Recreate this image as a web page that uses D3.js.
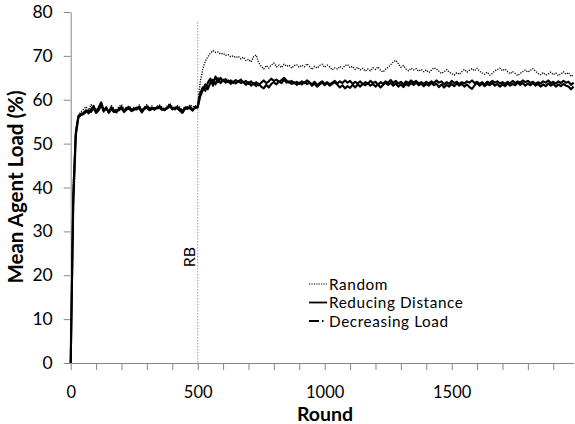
<!DOCTYPE html>
<html>
<head>
<meta charset="utf-8">
<script src="https://cdn.jsdelivr.net/npm/d3@7"></script>
<style>
  body { margin: 0; background: #fff; }
  text { font-family: Lato, "Open Sans", sans-serif; fill: #000; }
</style>
</head>
<body>
<svg id="chart" width="575" height="424"></svg>
<script>
// Mean agent load sampled every 10 rounds (rows of 100 rounds).
const roundStep = 10;
const seriesNames = ["Random", "Reducing Distance", "Decreasing Load"];

const randomLoad = [
  0, 41, 53, 56.5, 57.2, 57.8, 58.4, 57.6, 58.9, 58.1,
  57.5, 58.6, 59.3, 57.9, 58.2, 57.4, 58.7, 58.0, 57.6, 58.5,
  58.9, 57.8, 58.3, 58.6, 57.9, 58.4, 58.1, 58.8, 57.7, 58.3,
  58.9, 58.2, 58.6, 58.0, 58.5, 58.8, 58.3, 57.9, 58.6, 59.2,
  58.4, 58.1, 58.7, 58.3, 57.6, 58.5, 58.2, 58.9, 58.4, 58.6,
  59.0, 64.0, 67.0, 68.8, 69.8, 70.6, 71.2, 70.8, 70.9, 70.4,
  70.6, 70.1, 70.3, 69.8, 70.0, 69.6, 69.9, 69.3, 69.7, 68.9,
  69.2, 68.6, 69.8, 70.2, 68.5, 67.6, 67.0, 67.8, 67.2, 67.9,
  68.4, 67.5, 67.9, 67.3, 68.1, 67.6, 67.9, 67.2, 67.8, 68.0,
  67.4, 67.9, 67.5, 68.2, 67.6, 66.9, 67.6, 67.2, 67.8, 68.1,
  67.4, 67.9, 67.5, 66.8, 67.3, 67.0, 67.6, 67.1, 67.8, 68.0,
  67.3, 67.6, 66.9, 67.4, 66.8, 67.2, 66.5, 67.0, 66.6, 67.3,
  66.9, 67.5, 66.7, 66.3, 67.0, 67.4, 68.0, 68.6, 69.0, 68.2,
  67.4, 67.8, 67.0, 66.6, 67.2, 66.8, 67.1, 66.5, 66.9, 66.4,
  66.8, 66.2, 66.7, 67.3, 67.0, 66.5, 66.0, 66.4, 66.9, 66.3,
  66.0, 65.6, 66.2, 65.8, 66.4, 66.9, 66.3, 66.7, 67.1, 66.6,
  67.2, 66.5, 66.1, 65.8, 66.3, 65.6, 66.0, 66.6, 66.9, 67.2,
  66.6, 67.0, 66.4, 65.9, 66.4, 66.0, 65.5, 66.0, 66.4, 66.8,
  66.3, 66.7, 67.1, 66.5, 66.0, 65.7, 66.2, 65.6, 65.9, 66.3,
  65.7, 66.1, 65.5, 65.9, 66.4, 65.8, 66.2, 65.3, 65.7
];

const reducingDistanceLoad = [
  0, 38, 52.5, 56.2, 56.8, 57.0, 57.6, 56.9, 57.8, 58.6,
  57.3, 58.1, 59.4, 57.6, 57.9, 57.2, 58.3, 57.6, 57.1, 58.0,
  58.4, 57.5, 58.1, 58.3, 57.7, 58.0, 57.8, 58.4, 57.4, 58.1,
  58.5, 57.9, 58.2, 57.7, 58.3, 58.5, 58.0, 57.6, 58.2, 58.8,
  58.1, 57.8, 58.4, 57.9, 57.3, 58.2, 57.9, 58.4, 57.8, 58.1,
  58.5, 61.5, 62.8, 62.0, 63.9, 64.8, 63.2, 65.3, 64.0, 65.0,
  64.2, 64.7, 64.0, 64.4, 63.8, 64.5, 64.1, 64.6, 63.9, 64.3,
  63.6, 64.2, 63.5, 64.0, 63.3, 63.9, 64.4, 63.8, 64.2, 64.8,
  64.3, 64.6, 64.0, 64.5, 65.0, 64.4, 63.9, 64.3, 63.7, 64.1,
  63.6, 64.2, 63.8, 64.4, 64.0, 63.5, 64.1, 63.4, 63.8, 64.2,
  63.6, 64.0, 63.5, 63.9, 64.3, 63.7, 64.2, 63.8, 64.4, 63.9,
  64.3, 63.6, 64.1, 63.7, 64.2, 63.5, 64.0, 63.6, 64.3, 63.8,
  64.1, 63.4, 64.0, 63.6, 64.2, 63.9, 64.5, 63.8, 64.3, 63.7,
  64.1, 63.5, 64.2, 63.8, 64.4, 63.9, 64.3, 63.7, 64.0, 63.6,
  64.1, 63.7, 64.2, 63.8, 64.4, 63.9, 64.2, 63.5, 64.0, 63.6,
  64.3, 63.8, 64.1, 63.6, 64.0, 63.7, 64.2, 63.9, 64.4, 63.8,
  64.1, 63.6, 64.0, 63.5, 64.1, 63.8, 64.3, 63.9, 64.2, 63.7,
  64.0, 63.6, 64.1, 63.7, 64.3, 63.8, 64.2, 63.9, 64.4, 64.0,
  64.3, 63.8, 64.1, 63.6, 64.0, 63.7, 64.2, 63.9, 64.4, 63.8,
  64.1, 63.7, 64.2, 63.8, 64.3, 63.9, 64.1, 63.4, 63.9
];

const decreasingLoadLoad = [
  0, 36, 51.8, 55.9, 56.5, 56.7, 57.2, 57.5, 57.2, 58.1,
  57.0, 57.6, 58.8, 57.3, 58.3, 57.0, 57.9, 57.2, 57.5, 57.6,
  58.1, 57.2, 57.8, 58.0, 57.4, 57.7, 58.2, 58.0, 57.1, 57.9,
  58.2, 57.6, 57.9, 58.1, 58.0, 58.2, 57.7, 57.9, 58.0, 58.5,
  57.8, 58.2, 58.0, 57.5, 57.0, 57.9, 58.3, 58.0, 57.5, 58.4,
  58.2, 60.8, 62.2, 63.5, 62.4, 63.9, 64.6, 63.5, 64.9, 63.8,
  64.6, 63.9, 64.4, 63.6, 64.2, 63.7, 64.3, 63.8, 64.1, 63.4,
  64.0, 63.2, 63.8, 63.1, 63.7, 63.0, 62.6, 63.4, 62.8, 63.6,
  64.0, 63.5, 64.2, 63.8, 64.6, 63.9, 64.2, 63.6, 64.0, 63.4,
  63.9, 63.5, 64.0, 63.6, 63.9, 63.2, 63.7, 63.0, 63.5, 63.9,
  63.3, 63.8, 63.2, 63.6, 64.0, 63.4, 62.8, 63.3, 62.6, 63.1,
  62.7, 63.4, 62.8, 63.5, 63.0, 63.7, 63.3, 63.8, 63.2, 63.6,
  63.0, 63.5, 62.8, 63.4, 63.9, 63.4, 63.8, 63.2, 63.7, 63.0,
  63.5, 62.9, 63.6, 63.2, 63.8, 63.4, 63.9, 63.3, 63.7, 63.1,
  63.6, 63.2, 63.8, 63.3, 63.7, 62.9, 63.5, 62.8, 63.4, 63.0,
  63.6, 63.1, 63.7, 63.2, 63.6, 63.0, 63.5, 62.9, 62.5, 63.3,
  63.8, 63.2, 63.7, 63.1, 63.6, 63.3, 63.8, 63.2, 63.6, 63.0,
  63.5, 63.1, 63.7, 63.2, 63.6, 63.3, 63.9, 63.4, 63.8, 63.2,
  63.7, 63.3, 63.8, 63.2, 63.6, 63.0, 63.5, 63.1, 63.7, 63.2,
  63.6, 63.0, 63.5, 63.1, 63.6, 63.2, 63.0, 62.4, 63.0
];

const xTickLabels = [0, 500, 1000, 1500];
const xMinorStep = 100;
const yTickValues = [0, 10, 20, 30, 40, 50, 60, 70, 80];
const rebalanceRound = 500;
const rebalanceLabel = "RB";
const xTitle = "Round";
const yTitle = "Mean Agent Load (%)";

const svg = d3.select("#chart");
const axisColor = "#868686";

const x = d3.scaleLinear().domain([0, 1980]).range([70.7, 573.6]);
const y = d3.scaleLinear().domain([0, 80]).range([363, 12]);

// Y axis
const yAxis = svg.append("g")
  .attr("transform", `translate(${x(0)},0)`)
  .call(d3.axisLeft(y).tickValues(yTickValues).tickSize(7).tickSizeOuter(0).tickPadding(11));
yAxis.select(".domain").attr("stroke", axisColor);
yAxis.selectAll(".tick line").attr("stroke", axisColor);
yAxis.selectAll(".tick text").style("font-size", "17.5px").style("font-family", "Lato, sans-serif").attr("fill", "#000");

// X axis: minor ticks every 100 rounds, labels every 500
const xAxis = svg.append("g")
  .attr("transform", `translate(0,${y(0)})`)
  .call(d3.axisBottom(x)
    .tickValues(d3.range(0, 1980, xMinorStep))
    .tickFormat(d => xTickLabels.includes(d) ? d : "")
    .tickSize(7).tickSizeOuter(0).tickPadding(16));
xAxis.select(".domain").attr("stroke", axisColor);
xAxis.selectAll(".tick line").attr("stroke", axisColor);
xAxis.selectAll(".tick text").style("font-size", "16.5px").style("font-family", "Lato, sans-serif").attr("fill", "#000");

// Rebalance marker
svg.append("line")
  .attr("x1", x(rebalanceRound)).attr("x2", x(rebalanceRound))
  .attr("y1", 22).attr("y2", y(0))
  .attr("stroke", "#9a9a9a").attr("stroke-width", 1)
  .attr("stroke-dasharray", "1.5,1.5");
svg.append("text")
  .attr("transform", `translate(${x(rebalanceRound) - 3},257) rotate(-90)`)
  .attr("text-anchor", "middle")
  .style("font-size", "16px")
  .text(rebalanceLabel);

// Series lines
const line = d3.line()
  .x((d, i) => x(i * roundStep))
  .y(d => y(d));

const styles = [
  { data: randomLoad, width: 1.3, dash: "1.2,1.3" },
  { data: decreasingLoadLoad, width: 2.1, dash: null },
  { data: reducingDistanceLoad, width: 2.1, dash: null }
];
styles.forEach(s => {
  svg.append("path")
    .datum(s.data)
    .attr("fill", "none")
    .attr("stroke", "#000")
    .attr("stroke-width", s.width)
    .attr("stroke-linejoin", "round")
    .attr("stroke-dasharray", s.dash)
    .attr("d", line);
});

// Legend
const legendDash = ["1.2,1.2", null, "10,3,1.5,3"];
const legend = svg.append("g");
seriesNames.forEach((name, i) => {
  const cy = 284 + i * 18.5;
  legend.append("line")
    .attr("x1", 309).attr("x2", i === 2 ? 325 : 327)
    .attr("y1", cy).attr("y2", cy)
    .attr("stroke", "#000")
    .attr("stroke-width", i === 0 ? 1 : 1.8)
    .attr("stroke-dasharray", legendDash[i]);
  legend.append("text")
    .attr("x", 329).attr("y", cy + 5.5)
    .style("font-size", "15.3px")
    .style("letter-spacing", "0.6px")
    .text(name);
});

// Axis titles
svg.append("text")
  .attr("x", 325).attr("y", 421)
  .attr("text-anchor", "middle")
  .style("font-size", "19.5px").style("font-weight", "bold")
  .text(xTitle);
svg.append("text")
  .attr("transform", "translate(23,187) rotate(-90)")
  .attr("text-anchor", "middle")
  .style("font-size", "20.5px").style("font-weight", "bold")
  .text(yTitle);
</script>
</body>
</html>
